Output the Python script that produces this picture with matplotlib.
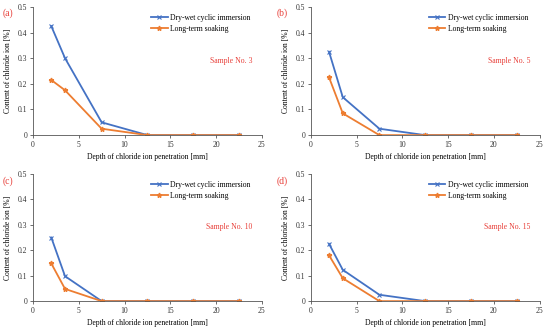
import numpy as np
import matplotlib.pyplot as plt

plt.rcParams['font.family'] = ['Liberation Serif', 'DejaVu Serif']

# depth of chloride ion penetration [mm]
depth = [2, 3.5, 7.5, 12.5, 17.5, 22.5]

# chloride content [%]
drywet_3 = [0.425, 0.300, 0.050, 0, 0, 0]
soak_3 = [0.215, 0.175, 0.025, 0, 0, 0]
drywet_5 = [0.325, 0.148, 0.025, 0, 0, 0]
soak_5 = [0.225, 0.085, 0, 0, 0, 0]
drywet_10 = [0.250, 0.098, 0, 0, 0, 0]
soak_10 = [0.148, 0.048, 0, 0, 0, 0]
drywet_15 = [0.225, 0.123, 0.025, 0, 0, 0]
soak_15 = [0.180, 0.090, 0, 0, 0, 0]

panels = ['(a)', '(b)', '(c)', '(d)']
samples = ['Sample No. 3', 'Sample No. 5', 'Sample No. 10', 'Sample No. 15']
drywet = [drywet_3, drywet_5, drywet_10, drywet_15]
soak = [soak_3, soak_5, soak_10, soak_15]

blue = '#4472C4'
orange = '#ED7D31'
red = '#E8403A'

fig = plt.figure(figsize=(5.5, 3.32), dpi=100)
pos = [[0.060, 0.593, 0.416, 0.386],
       [0.565, 0.593, 0.416, 0.386],
       [0.060, 0.093, 0.416, 0.383],
       [0.565, 0.093, 0.416, 0.383]]
# where the panel letters sit (pixels from top-left)
letter_xy = [(3, 13), (277, 13), (3, 181), (277, 181)]

for i in range(4):
    ax = fig.add_axes(pos[i])
    ax.plot(depth, drywet[i], color=blue, lw=1.3, marker='x', ms=3, mew=0.8,
            label='Dry-wet cyclic immersion')
    ax.plot(depth, soak[i], color=orange, lw=1.3, marker='*', ms=3.5,
            label='Long-term soaking')
    ax.set_xlim(0, 25)
    ax.set_ylim(0, 0.5)
    ax.set_xticks([0, 5, 10, 15, 20, 25])
    ax.set_yticks([0, 0.1, 0.2, 0.3, 0.4, 0.5])
    ax.set_yticklabels(['0', '0.1', '0.2', '0.3', '0.4', '0.5'])
    ax.spines['top'].set_visible(False)
    ax.spines['right'].set_visible(False)
    for s in ['left', 'bottom']:
        ax.spines[s].set_color('#555555')
        ax.spines[s].set_linewidth(0.6)
    ax.tick_params(labelsize=5.5, length=2, width=0.5, colors='#333333', pad=2)
    ax.set_xlabel('Depth of chloride ion penetration [mm]', fontsize=5.5, labelpad=3)
    ax.set_ylabel('Content of chloride ion [%]', fontsize=5.5, labelpad=4)
    ax.legend(loc='upper right', bbox_to_anchor=(0.98, 1.0), fontsize=5.5,
              frameon=False, handlelength=2.2, handletextpad=0.3,
              labelspacing=0.4)
    ax.text(0.96, 0.58, samples[i], transform=ax.transAxes, ha='right',
            va='center', fontsize=5.6, color=red)
    lx, ly = letter_xy[i]
    fig.text(lx / 550, 1 - ly / 332, panels[i], ha='left', va='center',
             fontsize=7, color=red)

plt.savefig('out.png', dpi=100)
